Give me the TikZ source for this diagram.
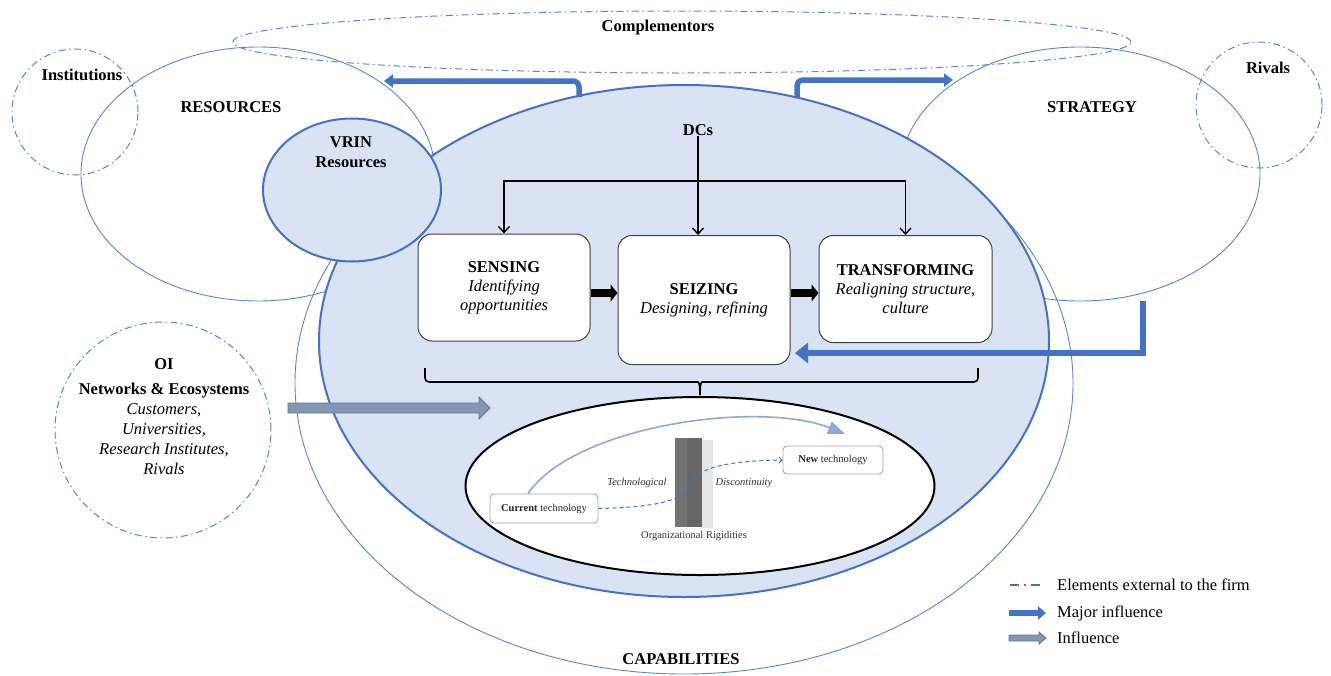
\documentclass[tikz,border=0pt]{standalone}
\usepackage{fontspec}
\setmainfont{Liberation Serif}
\usetikzlibrary{shapes.geometric,arrows.meta}
\definecolor{bl}{HTML}{4472C4}
\definecolor{thinbl}{HTML}{5A86D2}
\definecolor{fillbl}{HTML}{DAE3F3}
\definecolor{grayarr}{HTML}{8497B0}
\definecolor{grayarrline}{HTML}{5F7595}
\definecolor{curvebl}{HTML}{8EA9DB}
\begin{document}
\begin{tikzpicture}[x=1pt,y=-1pt,
  big/.style={font=\fontsize{16.5}{19}\selectfont, inner sep=0pt},
  lab/.style={big, font=\fontsize{16.5}{19}\selectfont\bfseries},
  small/.style={font=\fontsize{10.5}{12}\selectfont, inner sep=0pt, text=black!80},
  ext/.style={draw=thinbl, line width=1pt, dash pattern=on 7pt off 3.5pt on 1.5pt off 3.5pt},
  thinell/.style={ellipse, draw=thinbl, line width=0.9pt, inner sep=0pt},
  thickell/.style={ellipse, draw=bl, line width=2pt, fill=fillbl, inner sep=0pt},
  stagebox/.style={draw=black!75, line width=1pt, fill=white, rounded corners=14pt,
     align=center, inner sep=2pt, font=\fontsize{16.5}{19}\selectfont},
  techbox/.style={draw=black!35, line width=0.9pt, fill=white, rounded corners=4pt,
     inner sep=0pt, font=\fontsize{10.5}{12}\selectfont, text=black!85},
  major/.style={draw=bl, line width=5.5pt, -{Triangle[length=9pt,width=13pt]}},
  dcarr/.style={draw=black, line width=1.4pt, -{Straight Barb[length=6pt,width=11pt]}},
  blk/.style={draw=black, line width=8pt, -{Triangle[length=7pt,width=17pt]}},
  grayarrow/.style={draw=grayarrline, fill=grayarr, line width=0.8pt, line join=miter}
]
\useasboundingbox (0,0) rectangle (1331,675);

% external / outer shapes
\node[ellipse, ext, inner sep=0pt, minimum width=898, minimum height=62] (comp) at (682,42) {};
\node[thinell, minimum width=778, minimum height=582] (cap) at (684,383) {};
\node[thinell, minimum width=354, minimum height=254] (res) at (258,174) {};
\node[thinell, minimum width=360, minimum height=254] (strat) at (1080,174) {};

% dynamic capabilities ellipse
\node[thickell, minimum width=730, minimum height=512] (dc) at (684,341) {};
\node[thickell, minimum width=178, minimum height=143] (vrin) at (352,190) {};

% dash-dot circles
\node[circle, ext, inner sep=0pt, minimum size=126] (inst) at (75,112) {};
\node[circle, ext, inner sep=0pt, minimum size=126] (riv) at (1259,105) {};
\node[circle, ext, inner sep=0pt, minimum size=216] (oi) at (163,430) {};

% labels
\node[lab] (compl) at (658,28) {Complementors};
\node[lab] (instl) at (82,75) {Institutions};
\node[lab] (resl) at (231,107) {RESOURCES};
\node[lab] (stratl) at (1092,107) {STRATEGY};
\node[lab] (rivl) at (1268,68) {Rivals};
\node[lab, align=center, font=\fontsize{16.5}{20}\selectfont\bfseries] (vrinl) at (351,152) {VRIN\\Resources};
\node[lab] (dcs) at (698,130) {DCs};
\node[lab] (capl) at (681,659) {CAPABILITIES};
\node[big, align=center, font=\fontsize{16.5}{20}\selectfont] (oil) at (164,417)
  {\textbf{OI}\\[5pt]\textbf{Networks \& Ecosystems}\\\textit{Customers,}\\\textit{Universities,}\\\textit{Research Institutes,}\\\textit{Rivals}};

% stage boxes
\node[stagebox, minimum width=172, minimum height=107] (sense) at (504,287.5)
  {\textbf{SENSING}\\\textit{Identifying}\\\textit{opportunities}};
\node[stagebox, minimum width=172, minimum height=129] (seize) at (704,300)
  {\textbf{SEIZING}\\\textit{Designing, refining}};
\node[stagebox, minimum width=173, minimum height=107] (trans) at (905.5,289)
  {\textbf{TRANSFORMING}\\\textit{Realigning structure,}\\\textit{culture}};

% DC connectors
\coordinate (j) at (698,181);
\draw[dcarr] (dcs.south) -- (dcs.south |- seize.north);
\draw[dcarr] (j) -| (sense.north);
\draw[dcarr] (j) -| (trans.north);
\coordinate (ar) at (0,293);
\draw[blk] (sense.east |- ar) -- (seize.west |- ar);
\draw[blk] (seize.east |- ar) -- (trans.west |- ar);

% major influence arrows
\coordinate (m1s) at (579,97);
\coordinate (m1e) at (384,81);
\coordinate (m2s) at (797,98);
\coordinate (m2e) at (953,80);
\coordinate (m3s) at (1143,301);
\coordinate (m3e) at (795,353);
\draw[major, rounded corners=6pt] (m1s) |- (m1e);
\draw[major, rounded corners=6pt] (m2s) |- (m2e);
\draw[major, line width=6pt, -{Triangle[length=13pt,width=20pt]}] (m3s) |- (m3e);

% influence arrow (block arrow)
\draw[grayarrow] (288,403) -- (479,403) -- (479,397) -- (490,408) -- (479,419) -- (479,413) -- (288,413) -- cycle;

% brace
\draw[line width=1.6pt, rounded corners=4pt] (425,368) -- (425,382) -- (694,382) to[out=0,in=90] (700,395);
\draw[line width=1.6pt, rounded corners=4pt] (978,368) -- (978,382) -- (706,382) to[out=180,in=90] (700,395);

% technology ellipse
\node[ellipse, draw=black, line width=2pt, fill=white, inner sep=0pt, minimum width=469, minimum height=178] (tech) at (700,486) {};
\fill[black!10] (702,440) rectangle (713,528);
\fill[black!55] (675,438) rectangle (687,527);
\fill[black!60] (687,438) rectangle (702,527);
\node[techbox, minimum width=108, minimum height=29] (cur) at (544,508.5) {\textbf{Current} technology};
\node[techbox, minimum width=100, minimum height=28] (new) at (833,460) {\textbf{New} technology};
\node[small] (orgr) at (694,536) {Organizational Rigidities};
\node[small, font=\fontsize{10.5}{12}\selectfont\itshape] (tl) at (637,483) {Technological};
\node[small, font=\fontsize{10.5}{12}\selectfont\itshape] (dl) at (744,483) {Discontinuity};
\draw[curvebl, line width=1.6pt, -{Triangle[length=17pt,width=13pt]}]
  ([xshift=-16pt]cur.north) .. controls (575,425) and (760,400) .. (845,434);
\draw[bl, line width=1pt, dash pattern=on 4pt off 3pt, -{Straight Barb[length=3pt,width=6pt]}]
  (cur.east) .. controls (660,507) and (684,500) .. (690,485)
  .. controls (696,468) and (725,461) .. (new.west);

% legend
\coordinate (l1a) at (1010,585);
\coordinate (l1b) at (1043,585);
\draw[draw=bl, line width=1.2pt, dash pattern=on 9pt off 5pt on 2pt off 5pt] (l1a) -- (l1b);
\node[big, anchor=west] (lt1) at (1057,585) {Elements external to the firm};
\coordinate (l2a) at (1009,613);
\coordinate (l2b) at (1046,613);
\draw[draw=bl, line width=6pt, -{Triangle[length=8pt,width=13pt]}] (l2a) -- (l2b);
\node[big, anchor=west] (lt2) at (1057,613) {Major influence};
\draw[grayarrow] (1009,635) -- (1039,635) -- (1039,632) -- (1046,638) -- (1039,644) -- (1039,641) -- (1009,641) -- cycle;
\node[big, anchor=west] (lt3) at (1057,638) {Influence};
\end{tikzpicture}
\end{document}
